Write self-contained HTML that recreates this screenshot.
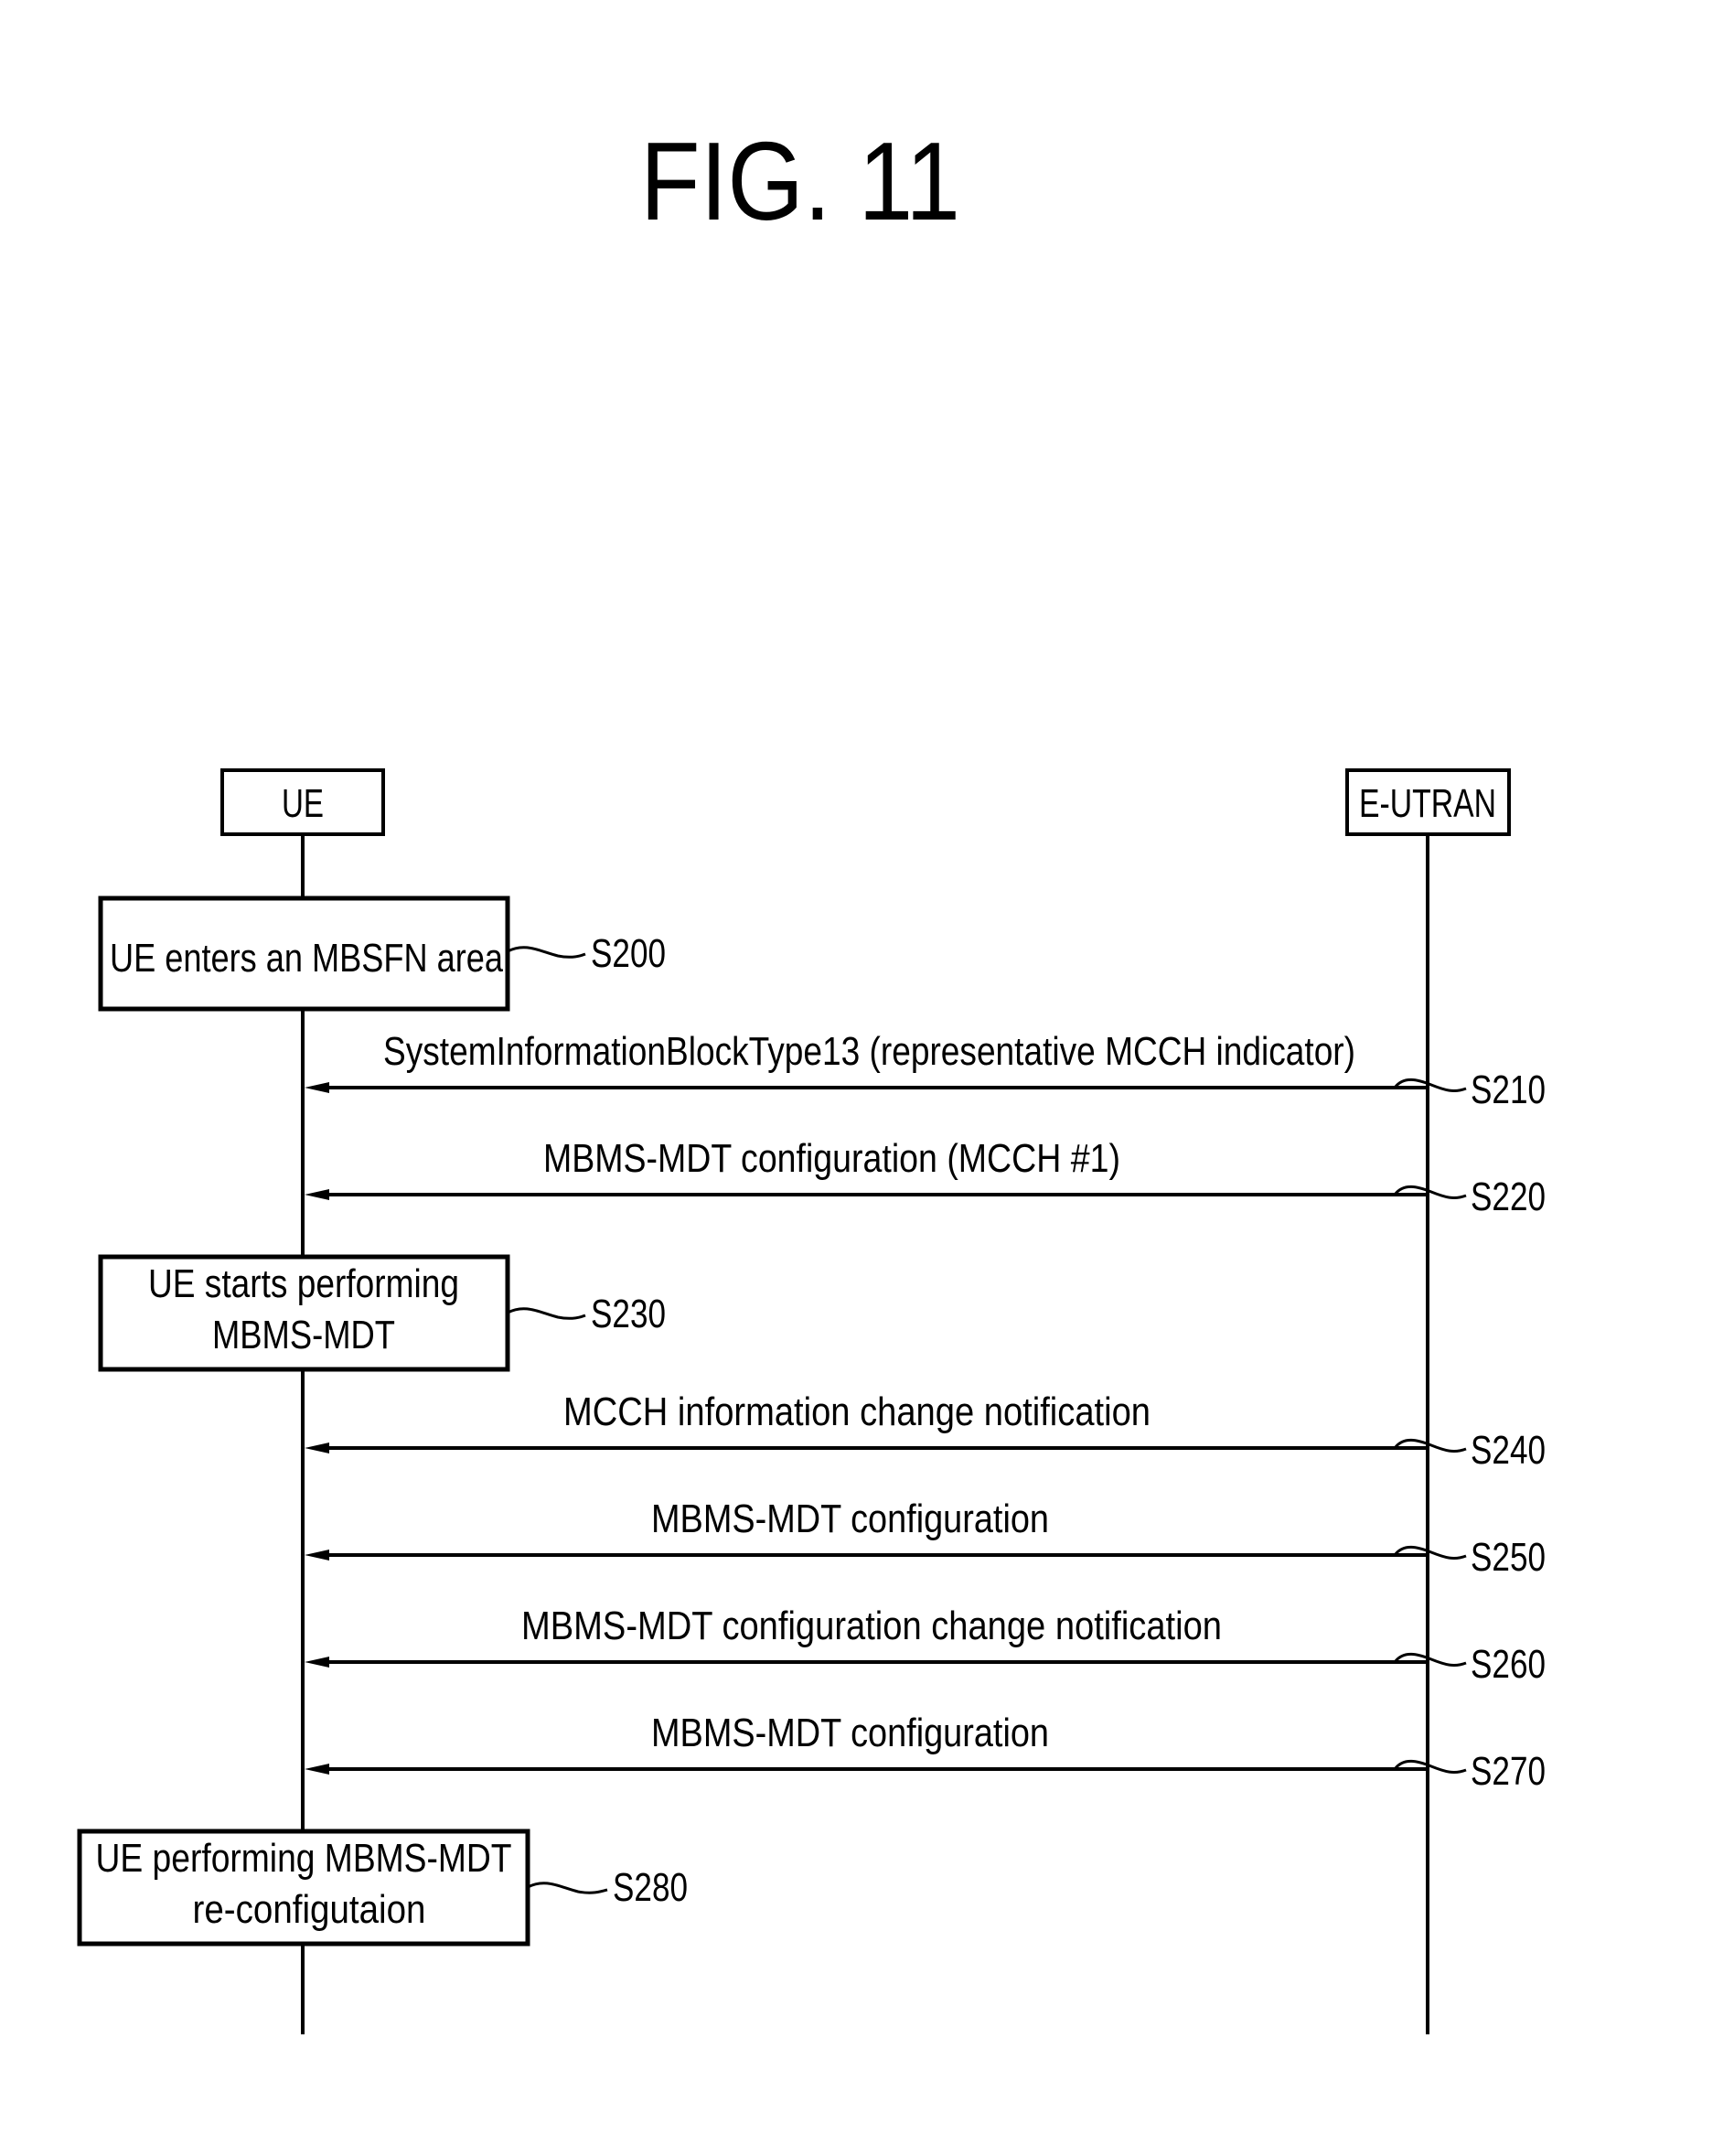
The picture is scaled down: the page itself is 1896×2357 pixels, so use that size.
<!DOCTYPE html>
<html><head><meta charset="utf-8"><style>html,body{margin:0;padding:0;background:#fff}svg{display:block}</style></head>
<body>
<svg width="1896" height="2357" viewBox="0 0 1896 2357" xmlns="http://www.w3.org/2000/svg" font-family="'Liberation Sans', NanumGothic, sans-serif" fill="#000">
<text x="875" y="240" font-size="122" text-anchor="middle" textLength="350" lengthAdjust="spacingAndGlyphs">FIG. 11</text>
<g fill="none" stroke="#000">
<rect x="243" y="842" width="176" height="70" stroke-width="4"/>
<rect x="1473" y="842" width="177" height="70" stroke-width="4"/>
<line x1="331" y1="912" x2="331" y2="2224" stroke-width="4"/>
<line x1="1561" y1="912" x2="1561" y2="2224" stroke-width="4"/>
<rect x="110" y="982" width="445" height="121" stroke="#000" stroke-width="5" fill="#fff"/>
<rect x="110" y="1374" width="445" height="123" stroke-width="5" fill="#fff"/>
<rect x="87" y="2002" width="490" height="123" stroke-width="5" fill="#fff"/>
<path d="M555 1040 C575 1030 590 1040 610 1045 C625 1048 635 1045 640 1043" stroke-width="3"/>
<path d="M555 1435 C575 1425 590 1435 610 1440 C625 1443 635 1440 640 1438" stroke-width="3"/>
<path d="M577 2063 C597 2053 612 2063 632 2068 C647 2071 657 2068 664 2066" stroke-width="3"/>
</g>
<g stroke="#000" stroke-width="4" fill="none">
<line x1="345" y1="1189" x2="1561" y2="1189"/>
<line x1="345" y1="1306" x2="1561" y2="1306"/>
<line x1="345" y1="1583" x2="1561" y2="1583"/>
<line x1="345" y1="1700" x2="1561" y2="1700"/>
<line x1="345" y1="1817" x2="1561" y2="1817"/>
<line x1="345" y1="1934" x2="1561" y2="1934"/>
</g>
<g fill="#000">
<polygon points="333,1189 360,1183 360,1195"/>
<polygon points="333,1306 360,1300 360,1312"/>
<polygon points="333,1583 360,1577 360,1589"/>
<polygon points="333,1700 360,1694 360,1706"/>
<polygon points="333,1817 360,1811 360,1823"/>
<polygon points="333,1934 360,1928 360,1940"/>
</g>
<g fill="none" stroke="#000" stroke-width="3">
<path d="M1525 1189 C1535 1176 1550 1180 1565 1186 C1580 1192 1590 1195 1603 1190"/>
<path d="M1525 1306 C1535 1293 1550 1297 1565 1303 C1580 1309 1590 1312 1603 1307"/>
<path d="M1525 1583 C1535 1570 1550 1574 1565 1580 C1580 1586 1590 1589 1603 1584"/>
<path d="M1525 1700 C1535 1687 1550 1691 1565 1697 C1580 1703 1590 1706 1603 1701"/>
<path d="M1525 1817 C1535 1804 1550 1808 1565 1814 C1580 1820 1590 1823 1603 1818"/>
<path d="M1525 1934 C1535 1921 1550 1925 1565 1931 C1580 1937 1590 1940 1603 1935"/>
</g>
<g font-size="44">
<text x="331" y="893" text-anchor="middle" textLength="46" lengthAdjust="spacingAndGlyphs">UE</text>
<text x="1561" y="893" text-anchor="middle" textLength="150" lengthAdjust="spacingAndGlyphs">E-UTRAN</text>
<text x="120" y="1062" textLength="430" lengthAdjust="spacingAndGlyphs">UE enters an MBSFN area</text>
<text x="332" y="1418" text-anchor="middle" textLength="340" lengthAdjust="spacingAndGlyphs">UE starts performing</text>
<text x="332" y="1474" text-anchor="middle" textLength="200" lengthAdjust="spacingAndGlyphs">MBMS-MDT</text>
<text x="332" y="2046" text-anchor="middle" textLength="455" lengthAdjust="spacingAndGlyphs">UE performing MBMS-MDT</text>
<text x="338" y="2102" text-anchor="middle" textLength="255" lengthAdjust="spacingAndGlyphs">re-configutaion</text>
<text x="419" y="1164" textLength="1063" lengthAdjust="spacingAndGlyphs">SystemInformationBlockType13 (representative MCCH indicator)</text>
<text x="594" y="1281" textLength="631" lengthAdjust="spacingAndGlyphs">MBMS-MDT configuration (MCCH #1)</text>
<text x="616" y="1558" textLength="642" lengthAdjust="spacingAndGlyphs">MCCH information change notification</text>
<text x="712" y="1675" textLength="435" lengthAdjust="spacingAndGlyphs">MBMS-MDT configuration</text>
<text x="570" y="1792" textLength="766" lengthAdjust="spacingAndGlyphs">MBMS-MDT configuration change notification</text>
<text x="712" y="1909" textLength="435" lengthAdjust="spacingAndGlyphs">MBMS-MDT configuration</text>
<text x="646" y="1057" textLength="82" lengthAdjust="spacingAndGlyphs">S200</text>
<text x="646" y="1451" textLength="82" lengthAdjust="spacingAndGlyphs">S230</text>
<text x="670" y="2078" textLength="82" lengthAdjust="spacingAndGlyphs">S280</text>
<text x="1608" y="1206" textLength="82" lengthAdjust="spacingAndGlyphs">S210</text>
<text x="1608" y="1323" textLength="82" lengthAdjust="spacingAndGlyphs">S220</text>
<text x="1608" y="1600" textLength="82" lengthAdjust="spacingAndGlyphs">S240</text>
<text x="1608" y="1717" textLength="82" lengthAdjust="spacingAndGlyphs">S250</text>
<text x="1608" y="1834" textLength="82" lengthAdjust="spacingAndGlyphs">S260</text>
<text x="1608" y="1951" textLength="82" lengthAdjust="spacingAndGlyphs">S270</text>
</g>
</svg>
</body></html>
